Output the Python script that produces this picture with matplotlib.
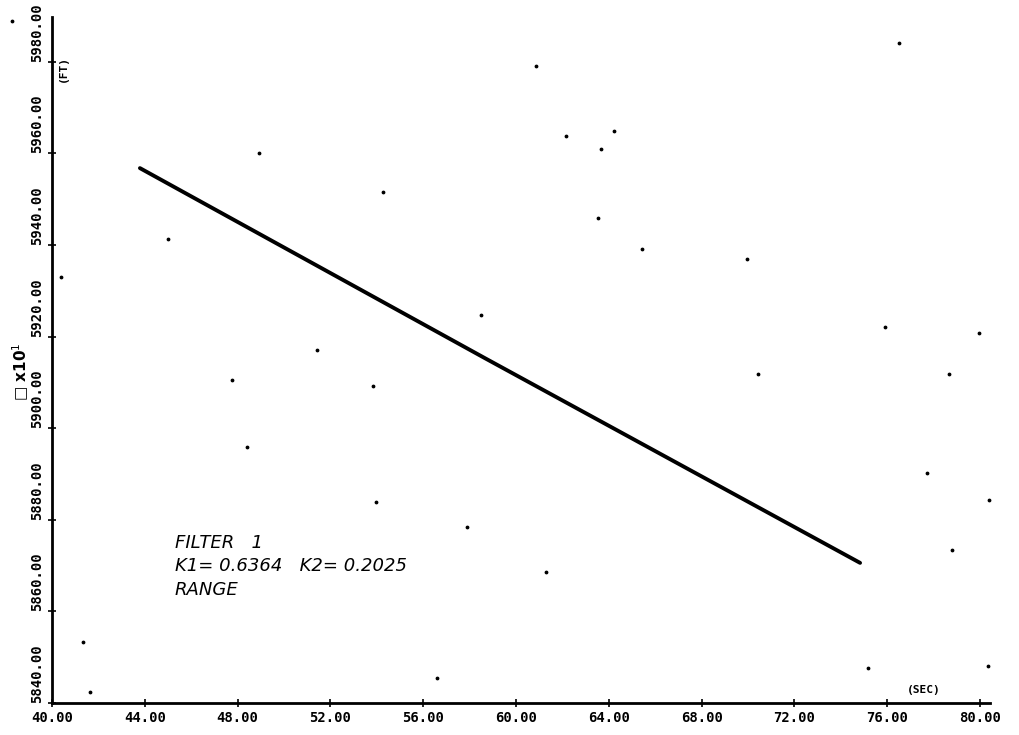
import numpy as np
import matplotlib
matplotlib.use('agg')
from matplotlib import pyplot as plt

# fitted range line (time in sec, range in ft)
line_t = [43.79, 58.66, 74.83]
line_r = [5956.8, 5915.3, 5870.6]

# scattered measurement points
pts_t = [48.92, 45.00, 40.39, 51.42, 60.86, 62.16, 64.22, 63.66, 54.27, 63.53,
         65.43, 58.49, 76.51, 69.96, 75.91, 79.96, 47.76, 48.41, 41.34, 41.64,
         53.84, 53.97, 57.89, 61.29, 56.59, 70.43, 78.66, 77.72, 80.40, 78.79,
         75.17, 80.35, 38.28]
pts_r = [5960.1, 5941.3, 5933.0, 5917.1, 5979.1, 5963.8, 5964.9, 5961.0, 5951.6, 5945.9,
         5939.1, 5924.7, 5984.1, 5936.9, 5922.1, 5920.8, 5910.5, 5895.9, 5853.3, 5842.4,
         5909.2, 5883.9, 5878.4, 5868.6, 5845.5, 5911.8, 5911.8, 5890.2, 5884.3, 5873.4,
         5847.6, 5848.0, 5988.9]

x_ticks = np.arange(40, 81, 4)
y_ticks = np.arange(5840, 5981, 20)

W, H = 1019, 735
fig = plt.figure(figsize=(W / 100, H / 100), dpi=100)
ax = fig.add_axes([52 / W, 32 / H, (990 - 52) / W, (703 - 17) / H])

ax.plot(line_t, line_r, color='black', lw=2.8, solid_capstyle='round')
ax.scatter(pts_t, pts_r, s=3, color='black', clip_on=False, zorder=3)

ax.set_xlim(40, 80.43)
ax.set_ylim(5840, 5989.8)
ax.set_xticks(x_ticks)
ax.set_yticks(y_ticks)
ax.set_xticklabels(['%.2f' % v for v in x_ticks])
ax.set_yticklabels(['%.2f' % v for v in y_ticks])

for s in ['top', 'right']:
    ax.spines[s].set_visible(False)
for s in ['left', 'bottom']:
    ax.spines[s].set_linewidth(2.0)

ax.tick_params(axis='both', direction='inout', length=6, width=1.2,
               labelsize=10, pad=3)
ax.tick_params(axis='y', labelrotation=90)
for lab in ax.get_xticklabels() + ax.get_yticklabels():
    lab.set_family('DejaVu Sans Mono')
    lab.set_fontweight('bold')
plt.setp(ax.get_yticklabels(), va='bottom')

# unit labels
fig.text(63 / W, 1 - 68 / H, '(FT)', rotation=90, ha='center', va='center',
         family='DejaVu Sans Mono', fontweight='bold', fontsize=8)
fig.text(924 / W, 1 - 690 / H, '(SEC)', ha='center', va='center',
         family='DejaVu Sans Mono', fontweight='bold', fontsize=8)
fig.text(21 / W, 1 - 372 / H, '\u25a1 x10$^1$', rotation=90, ha='center', va='center',
         fontsize=11, fontweight='bold')

# annotation
note = 'FILTER   1\nK1= 0.6364   K2= 0.2025\nRANGE'
ax.text(45.3, 5877.0, note, fontstyle='italic', fontsize=13,
        linespacing=1.4, va='top', ha='left')

fig.savefig('out.png', dpi=100)
